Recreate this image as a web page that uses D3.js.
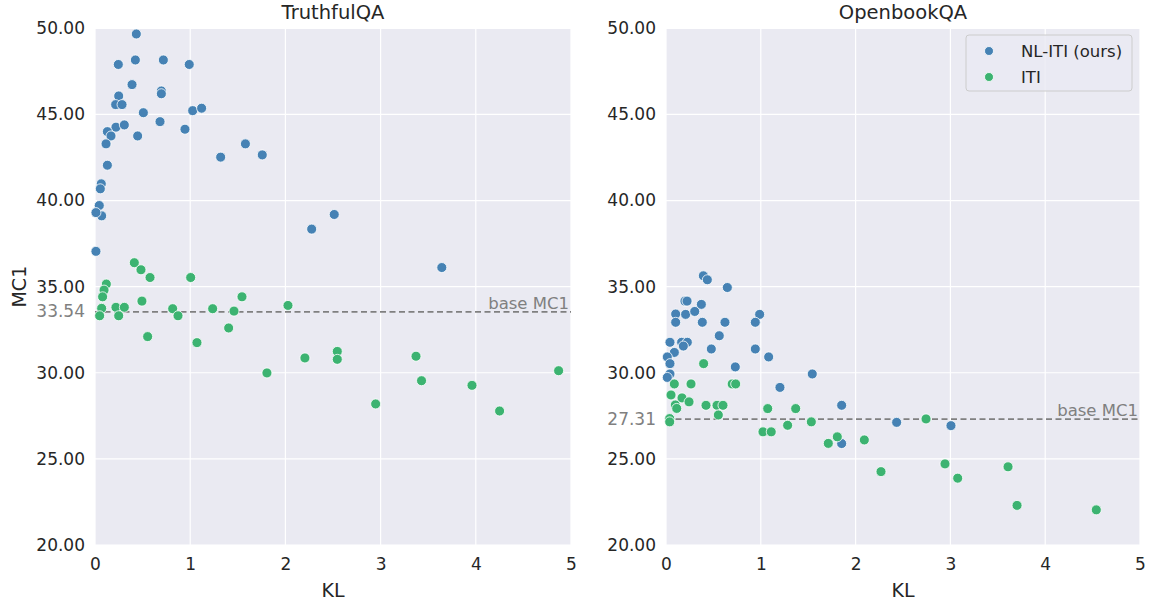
<!DOCTYPE html>
<html>
<head>
<meta charset="utf-8">
<script src="https://cdn.jsdelivr.net/npm/d3@7"></script>
<style>
  body { margin: 0; background: #fff; }
  svg { font-family: "DejaVu Sans", sans-serif; }
</style>
</head>
<body>
<svg id="chart" width="1150" height="601"></svg>
<script>
// [KL, MC1] pairs
const truthfulNL = [
  [0.434, 49.67], [0.245, 47.9], [0.424, 48.16], [0.718, 48.16], [0.99, 47.9],
  [0.389, 46.73], [0.697, 46.36], [0.697, 46.2], [0.249, 46.07], [0.217, 45.57],
  [0.284, 45.57], [0.508, 45.1], [1.026, 45.22], [1.12, 45.36], [0.683, 44.58],
  [0.22, 44.26], [0.308, 44.39], [0.13, 44.0], [0.168, 43.75], [0.448, 43.75],
  [0.945, 44.14], [0.116, 43.29], [1.58, 43.29], [1.32, 42.52], [1.757, 42.65],
  [0.13, 42.05], [0.066, 40.97], [0.056, 40.68], [0.045, 39.71], [0.07, 39.11],
  [0.01, 39.3], [0.01, 37.05], [2.276, 38.34], [2.513, 39.19], [3.643, 36.11]
];
const truthfulITI = [
  [0.413, 36.39], [0.483, 35.98], [0.578, 35.53], [1.005, 35.53], [0.119, 35.15],
  [0.095, 34.8], [0.08, 34.41], [0.493, 34.16], [1.544, 34.41], [2.027, 33.91],
  [0.07, 33.74], [0.22, 33.8], [0.308, 33.8], [0.816, 33.72], [1.236, 33.72],
  [1.46, 33.58], [0.049, 33.31], [0.249, 33.31], [0.872, 33.31], [1.404, 32.6],
  [0.553, 32.1], [1.071, 31.75], [2.205, 30.86], [2.545, 31.24], [2.545, 30.78],
  [1.806, 29.99], [2.948, 28.19], [3.372, 30.96], [3.43, 29.54], [3.96, 29.27],
  [4.25, 27.78], [4.87, 30.12]
];
const openbookNL = [
  [0.394, 35.63], [0.436, 35.4], [0.647, 34.95], [0.2, 34.16], [0.222, 34.16],
  [0.373, 33.97], [0.102, 33.41], [0.207, 33.39], [0.303, 33.56], [0.988, 33.39],
  [0.102, 32.93], [0.383, 32.93], [0.622, 32.93], [0.942, 32.93], [0.562, 32.15],
  [0.042, 31.77], [0.165, 31.77], [0.225, 31.77], [0.183, 31.55], [0.478, 31.38],
  [0.942, 31.38], [0.088, 31.18], [0.014, 30.92], [0.042, 30.53], [1.083, 30.92],
  [0.731, 30.34], [0.042, 29.93], [0.014, 29.73], [1.543, 29.93], [1.202, 29.15],
  [1.853, 28.11], [1.853, 25.89], [2.433, 27.12], [3.006, 26.93]
];
const openbookITI = [
  [0.397, 30.53], [0.088, 29.35], [0.264, 29.35], [0.698, 29.35], [0.735, 29.35],
  [0.053, 28.71], [0.169, 28.54], [0.243, 28.31], [0.098, 28.13], [0.113, 27.93],
  [0.422, 28.11], [0.538, 28.11], [0.601, 28.11], [0.552, 27.55], [1.073, 27.92],
  [1.368, 27.92], [0.039, 27.34], [0.039, 27.15], [1.533, 27.15], [1.283, 26.95],
  [1.023, 26.57], [1.11, 26.57], [1.712, 25.9], [1.807, 26.28], [2.092, 26.1],
  [2.743, 27.32], [2.268, 24.26], [2.943, 24.71], [3.077, 23.88], [3.608, 24.54],
  [3.703, 22.3], [4.539, 22.04]
];

const xTicks = [0, 1, 2, 3, 4, 5];
const yTicks = [20, 25, 30, 35, 40, 45, 50];
const seriesNames = ["NL-ITI (ours)", "ITI"];
const seriesColors = ["#4682b4", "#3cb371"];

const panels = [
  { title: "TruthfulQA", base: 33.54, series: [truthfulNL, truthfulITI], left: 95, right: 571, ylabel: true, legend: false },
  { title: "OpenbookQA", base: 27.31, series: [openbookNL, openbookITI], left: 666, right: 1140, ylabel: false, legend: true }
];

const plotTop = 28.3, plotBottom = 545;
const svg = d3.select("#chart");
const textColor = "#262626";

panels.forEach(p => {
  const x = d3.scaleLinear().domain([0, 5]).range([p.left, p.right]);
  const y = d3.scaleLinear().domain([20, 50]).range([plotBottom, plotTop]);
  const g = svg.append("g");

  g.append("rect")
    .attr("x", p.left).attr("y", plotTop)
    .attr("width", p.right - p.left).attr("height", plotBottom - plotTop)
    .attr("fill", "#eaeaf2");

  // grid
  g.append("g").selectAll("line")
    .data(xTicks)
    .join("line")
    .attr("x1", d => x(d)).attr("x2", d => x(d))
    .attr("y1", plotTop).attr("y2", plotBottom)
    .attr("stroke", "#fff").attr("stroke-width", 1.2);
  g.append("g").selectAll("line")
    .data(yTicks)
    .join("line")
    .attr("x1", p.left).attr("x2", p.right)
    .attr("y1", d => y(d)).attr("y2", d => y(d))
    .attr("stroke", "#fff").attr("stroke-width", 1.2);

  // axes (labels only, seaborn darkgrid has no spines)
  const xAxis = g.append("g")
    .attr("transform", `translate(0,${plotBottom})`)
    .call(d3.axisBottom(x).tickValues(xTicks).tickFormat(d3.format("d")).tickSize(0).tickPadding(13));
  const yAxis = g.append("g")
    .attr("transform", `translate(${p.left},0)`)
    .call(d3.axisLeft(y).tickValues(yTicks).tickFormat(d3.format(".2f")).tickSize(0).tickPadding(10));
  [xAxis, yAxis].forEach(a => {
    a.select(".domain").remove();
    a.selectAll("text").attr("fill", textColor).style("font-size", "17px").style("font-family", "DejaVu Sans");
  });

  // extra base tick
  g.append("text")
    .attr("x", p.left - 10).attr("y", y(p.base))
    .attr("dy", "0.32em")
    .attr("text-anchor", "end")
    .attr("fill", "#808080")
    .style("font-size", "17px")
    .text(p.base.toFixed(2));

  // baseline
  g.append("line")
    .attr("x1", p.left).attr("x2", p.right)
    .attr("y1", y(p.base)).attr("y2", y(p.base))
    .attr("stroke", "#808080").attr("stroke-width", 1.8)
    .attr("stroke-dasharray", "6,3.5");
  g.append("text")
    .attr("x", p.right - 2).attr("y", y(p.base) - 3)
    .attr("text-anchor", "end")
    .attr("fill", "#808080")
    .style("font-size", "16.5px")
    .text("base MC1");

  // points
  p.series.forEach((s, i) => {
    g.append("g").selectAll("circle")
      .data(s)
      .join("circle")
      .attr("cx", d => x(d[0]))
      .attr("cy", d => y(d[1]))
      .attr("r", 5)
      .attr("fill", seriesColors[i])
      .attr("stroke", "#fff")
      .attr("stroke-width", 0.8);
  });

  g.append("text")
    .attr("x", (p.left + p.right) / 2).attr("y", 19)
    .attr("text-anchor", "middle")
    .attr("fill", textColor)
    .style("font-size", "19.5px")
    .text(p.title);

  g.append("text")
    .attr("x", (p.left + p.right) / 2).attr("y", 597)
    .attr("text-anchor", "middle")
    .attr("fill", textColor)
    .style("font-size", "19px")
    .text("KL");

  if (p.ylabel) {
    g.append("text")
      .attr("transform", `translate(26,${(plotTop + plotBottom) / 2}) rotate(-90)`)
      .attr("text-anchor", "middle")
      .attr("fill", textColor)
      .style("font-size", "19px")
      .text("MC1");
  }

  if (p.legend) {
    const lg = g.append("g").attr("transform", "translate(966,35)");
    lg.append("rect")
      .attr("width", 166).attr("height", 56)
      .attr("rx", 3)
      .attr("fill", "#eaeaf2").attr("fill-opacity", 0.8)
      .attr("stroke", "#cccccc");
    seriesNames.forEach((name, i) => {
      lg.append("circle")
        .attr("cx", 23).attr("cy", 16 + i * 26)
        .attr("r", 4.5)
        .attr("fill", seriesColors[i])
        .attr("stroke", "#fff").attr("stroke-width", 0.8);
      lg.append("text")
        .attr("x", 55).attr("y", 16 + i * 26)
        .attr("dy", "0.35em")
        .attr("fill", textColor)
        .style("font-size", "16.5px")
        .text(name);
    });
  }
});
</script>
</body>
</html>
